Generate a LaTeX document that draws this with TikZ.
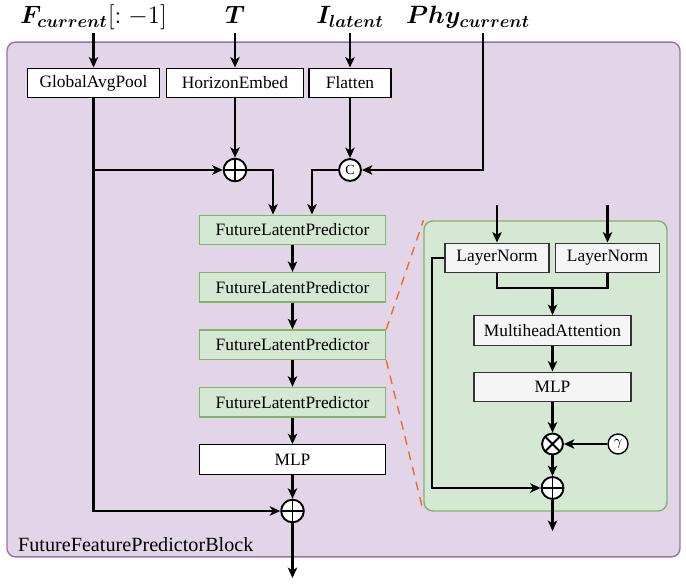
\documentclass[tikz,border=0pt]{standalone}
\usepackage{fontspec}
\setmainfont{Liberation Serif}
\usepackage{amsmath,bm}
\usepackage{xcolor}
\usepackage{tikz}
\usetikzlibrary{arrows.meta,positioning}
\definecolor{ffpPurple}{HTML}{E1D5E7}
\definecolor{ffpPurpleLine}{HTML}{9673A6}
\definecolor{ffpGreen}{HTML}{D5E8D4}
\definecolor{ffpGreenLine}{HTML}{82B366}
\definecolor{ffpGray}{HTML}{F5F5F5}
\definecolor{ffpLine}{HTML}{000000}
\definecolor{ffpOrange}{HTML}{EE6A2E}
\tikzset{
  plainbox/.style={
    rectangle,
    draw=ffpLine,
    fill=white,
    line width=0.8pt,
    align=center,
    font=\normalsize,
    inner sep=0pt,
    minimum height=17pt
  },
  latentbox/.style={plainbox, draw=ffpGreenLine, fill=ffpGreen,
    minimum width=107pt},
  normbox/.style={plainbox, draw=black!80, fill=ffpGray},
  opnode/.style={
    circle,
    draw=ffpLine,
    fill=white,
    line width=1.1pt,
    inner sep=0pt,
    minimum size=13pt
  },
  sumop/.style={opnode,
    path picture={\draw[line width=1.1pt]
      (path picture bounding box.north) -- (path picture bounding box.south)
      (path picture bounding box.west) -- (path picture bounding box.east);}},
  mulop/.style={opnode, minimum size=12pt,
    path picture={\draw[line width=1.1pt]
      (path picture bounding box.north east) -- (path picture bounding box.south west)
      (path picture bounding box.north west) -- (path picture bounding box.south east);}},
  inlabel/.style={font=\fontsize{14}{16}\selectfont, inner sep=1.7pt,
    text height=10pt, text depth=3.5pt, anchor=south},
  panel/.style={rectangle, rounded corners=5pt, line width=0.8pt},
  line/.style={line width=1.3pt, draw=ffpLine},
  arrow/.style={-{Stealth[length=6pt, width=5.4pt, inset=1.6pt]}, line width=1.3pt, draw=ffpLine},
  zoomline/.style={dashed, dash pattern=on 5pt off 4pt, line width=0.8pt, draw=ffpOrange}
}

\begin{document}
\begin{tikzpicture}[x=0.575pt, y=-0.575pt, node distance=15.2pt]
  \useasboundingbox (0,0) rectangle (686,584);
  % outer block and zoomed detail
  \node[panel, draw=ffpPurpleLine, fill=ffpPurple, minimum width=387pt, minimum height=296pt] (block) at (343.5,299.5) {};
  \node[panel, draw=ffpGreenLine, fill=ffpGreen, minimum width=139.7pt, minimum height=166.7pt] (detail) at (545.5,366) {};
  \node[anchor=west, font=\fontsize{11.6}{14}\selectfont] (blocklabel) at (12,545) {FutureFeaturePredictorBlock};

  % inputs
  \node[inlabel] (flabel) at (93.5,33) {$\bm{F_{current}}[:-1]$};
  \node[inlabel] (tlabel) at (235,33) {$\bm{T}$};
  \node[inlabel] (ilabel) at (350,33) {$\bm{I_{latent}}$};
  \node[inlabel] (phylabel) at (468,33) {$\bm{Phy_{current}}$};

  \node[plainbox, minimum width=76pt] (gap) at (93.5,83) {GlobalAvgPool};
  \node[plainbox, minimum width=78.8pt] (horizon) at (235,83) {HorizonEmbed};
  \node[plainbox, minimum width=47.2pt] (flatten) at (350,83) {Flatten};

  \node[sumop] (sumin) at (235,170) {};
  \node[opnode, minimum size=12.6pt, font=\fontsize{8}{8}\selectfont] (concat) at (350,170) {C};

  % predictor stack
  \node[latentbox] (flp1) at (292.5,230) {FutureLatentPredictor};
  \node[latentbox, below=of flp1] (flp2) {FutureLatentPredictor};
  \node[latentbox, below=of flp2] (flp3) {FutureLatentPredictor};
  \node[latentbox, below=of flp3] (flp4) {FutureLatentPredictor};
  \node[plainbox, minimum width=107pt, below=of flp4] (mlp) {MLP};
  \node[sumop] (sumout) at (292.5,511) {};
  \coordinate (out) at (292.5,578);

  % detail of one predictor
  \coordinate (qin) at (497,205);
  \coordinate (kin) at (607.5,205);
  \node[normbox, minimum width=59.8pt] (norm1) at (497,258) {LayerNorm};
  \node[normbox, minimum width=59.8pt] (norm2) at (607.5,258) {LayerNorm};
  \coordinate (merge) at (552.5,288);
  \node[normbox, minimum width=90.3pt] (attn) at (552.5,330.5) {MultiheadAttention};
  \node[normbox, minimum width=90.3pt] (mlpin) at (552.5,387) {MLP};
  \node[mulop] (scale) at (552.5,444) {};
  \node[opnode, minimum size=11.5pt, line width=0.8pt, font=\fontsize{8}{8}\selectfont] (gamma) at (618,444) {$\gamma$};
  \node[sumop, minimum size=12.6pt] (sumres) at (552.5,488) {};
  \coordinate (resout) at (552.5,531);

  % connectors
  \draw[arrow] (flabel) -- (gap);
  \draw[arrow] (tlabel) -- (horizon);
  \draw[arrow] (ilabel) -- (flatten);
  \draw[arrow] (horizon) -- (sumin);
  \draw[arrow] (flatten) -- (concat);
  \draw[arrow] (gap.south) |- (sumout.west);
  \draw[arrow] (gap.south |- sumin) -- (sumin.west);
  \draw[arrow] ([xshift=8.6pt]phylabel.south) |- (concat.east);
  \draw[arrow] (sumin.east) -| ([xshift=-11.2pt]flp1.north);
  \draw[arrow] (concat.west) -| ([xshift=11.2pt]flp1.north);
  \draw[arrow] (flp1) -- (flp2);
  \draw[arrow] (flp2) -- (flp3);
  \draw[arrow] (flp3) -- (flp4);
  \draw[arrow] (flp4) -- (mlp);
  \draw[arrow] (mlp) -- (sumout);
  \draw[arrow] (sumout) -- (out);

  \draw[zoomline] (flp3.north east) -- (detail.north west);
  \draw[zoomline] (flp3.south east) -- (detail.south west);

  \draw[arrow] (qin) -- (norm1);
  \draw[arrow] (kin) -- (norm2);
  \draw[line] (norm1.south) |- (merge) -| (norm2.south);
  \draw[arrow] (merge) -- (attn);
  \draw[arrow] (attn) -- (mlpin);
  \draw[arrow] (mlpin) -- (scale);
  \draw[arrow] (gamma) -- (scale);
  \draw[arrow] (scale) -- (sumres);
  \draw[arrow] (norm1.west) -- ++(-7pt,0) |- (sumres.west);
  \draw[arrow] (sumres) -- (resout);
\end{tikzpicture}
\end{document}
